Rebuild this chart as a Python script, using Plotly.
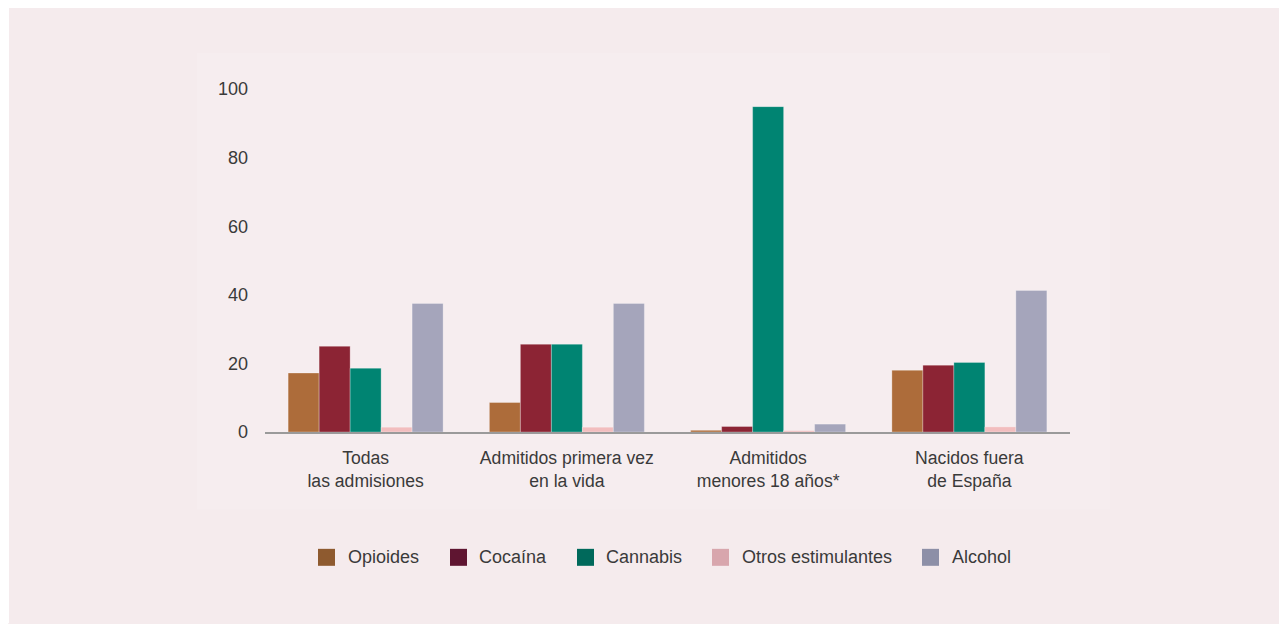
import plotly.graph_objects as go

categories = ["Todas<br>las admisiones", "Admitidos primera vez<br>en la vida",
              "Admitidos<br>menores 18 años*", "Nacidos fuera<br>de España"]
series_names = ["Opioides", "Cocaína", "Cannabis", "Otros estimulantes", "Alcohol"]
opioides = [17.2, 8.6, 0.5, 18.0]
cocaina = [25.0, 25.6, 1.6, 19.5]
cannabis = [18.6, 25.6, 94.9, 20.3]
otros_estimulantes = [1.4, 1.4, 0.4, 1.5]
alcohol = [37.5, 37.5, 2.3, 41.3]
y_ticks = [0, 20, 40, 60, 80, 100]

bar_colors = ["#AD6C3A", "#8C2434", "#008472", "#F2BDBE", "#A5A5BB"]
legend_colors = ["#8E5A2F", "#5F1531", "#00695B", "#D8A6AD", "#8D8FA7"]
values = [opioides, cocaina, cannabis, otros_estimulantes, alcohol]

# page has an 8px body margin, so the figure is placed at (8, 8)
OFF = 8
W, H = 1287 - OFF, 624 - OFF
L, R, T, B = 265 - OFF, 1070 - OFF, 72 - OFF, 432.5 - OFF


def px(x):
    return (x - OFF - L) / (R - L)


def py(y):
    return (B - (y - OFF)) / (B - T)


fig = go.Figure()
for name, vals, col in zip(series_names, values, bar_colors):
    fig.add_trace(go.Bar(x=categories, y=vals, name=name, marker_color=col,
                         marker_line=dict(width=0.8, color="rgba(255,255,255,0.35)"),
                         showlegend=False, hoverinfo="y"))

font = "Liberation Sans, Arial, sans-serif"
txt = "#3A3A3A"

shapes = [
    dict(type="rect", xref="paper", yref="paper", layer="below",
         x0=px(0), x1=px(9), y0=py(H + OFF), y1=py(0), fillcolor="#FFFFFF", line_width=0),
    dict(type="rect", xref="paper", yref="paper", layer="below",
         x0=px(197), x1=px(1110), y0=py(510), y1=py(53), fillcolor="#F6EDEF", line_width=0),
]
annotations = []
# manual legend (reference pixel positions of the swatches and labels)
legend_sw_x = [318, 450, 577, 712, 922]
legend_txt_x = [347, 478, 605, 741, 951]
leg_y = 558
for name, col, sx, tx in zip(series_names, legend_colors, legend_sw_x, legend_txt_x):
    shapes.append(dict(type="rect", xref="paper", yref="paper",
                       x0=px(sx), x1=px(sx + 17), y0=py(leg_y + 8.5), y1=py(leg_y - 8.5),
                       fillcolor=col, line_width=0))
    annotations.append(dict(text=name, xref="paper", yref="paper", x=px(tx - 1), y=py(leg_y),
                            xanchor="left", yanchor="middle", showarrow=False,
                            font=dict(size=18, color=txt, family=font)))

fig.update_layout(
    width=W, height=H,
    margin=dict(l=L, r=W - R, t=T, b=H - B),
    paper_bgcolor="#F5EBED",
    plot_bgcolor="rgba(0,0,0,0)",
    barmode="group", bargap=0.23, bargroupgap=0,
    showlegend=False,
    font=dict(family=font, size=17, color=txt),
    xaxis=dict(showgrid=False, showline=True, linecolor="#9A9A9A", linewidth=2,
               ticks="", tickfont=dict(size=17.6, color=txt), ticklabelstandoff=9,
               range=[-0.5, 3.5], fixedrange=True),
    yaxis=dict(showgrid=False, showline=False, zeroline=False, range=[0, 105],
               tickvals=y_ticks, ticks="", tickfont=dict(size=18, color=txt),
               ticklabelstandoff=16, fixedrange=True),
    shapes=shapes,
    annotations=annotations,
)

fig.write_html("out.html")
